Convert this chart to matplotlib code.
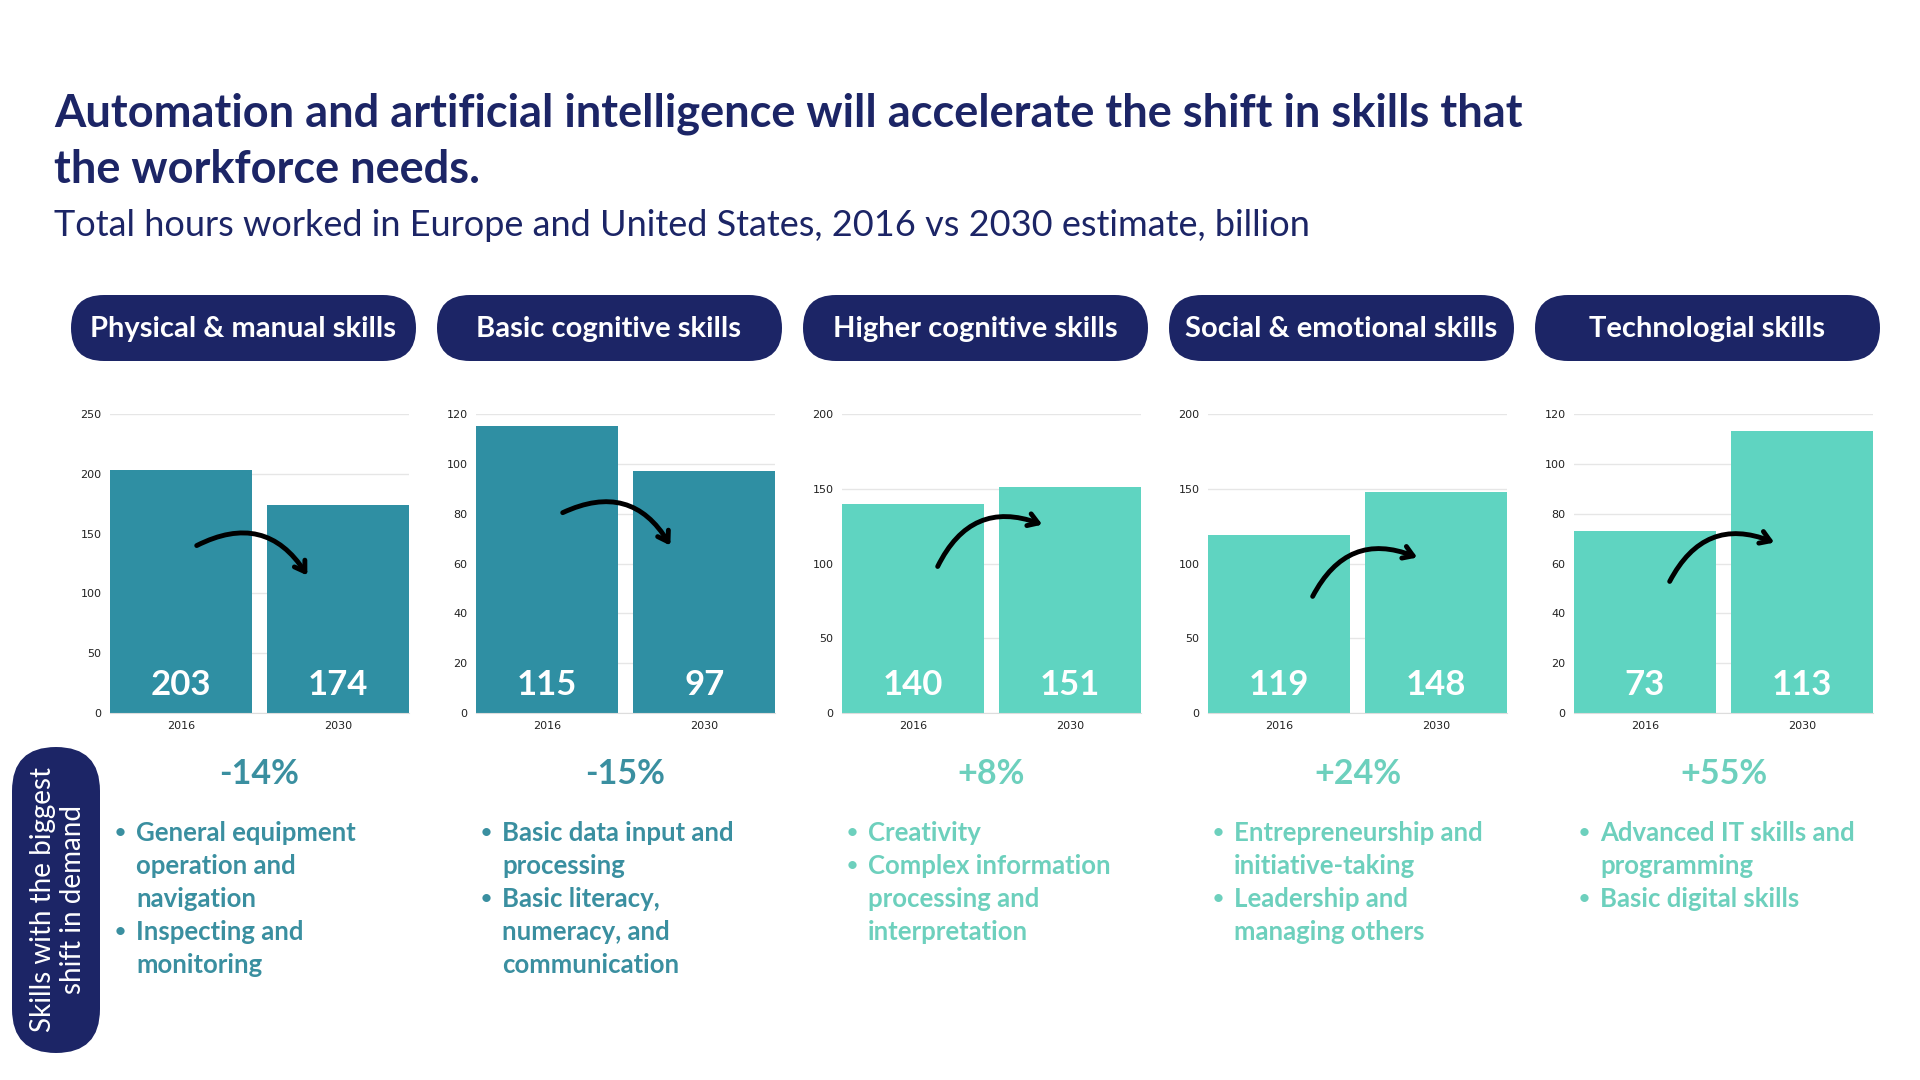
import numpy as np
import matplotlib.pyplot as plt
from matplotlib.patches import FancyBboxPatch

# data
skills = ["Physical & manual skills", "Basic cognitive skills", "Higher cognitive skills",
          "Social & emotional skills", "Technologial skills"]
years = ["2016", "2030"]
hours_2016 = [203, 115, 140, 119, 73]
hours_2030 = [174, 97, 151, 148, 113]
changes = ["-14%", "-15%", "+8%", "+24%", "+55%"]
y_max = [250, 120, 200, 200, 120]
y_step = [50, 20, 50, 50, 20]
bullets = [
    [["General equipment", "operation and", "navigation"], ["Inspecting and", "monitoring"]],
    [["Basic data input and", "processing"], ["Basic literacy,", "numeracy, and", "communication"]],
    [["Creativity"], ["Complex information", "processing and", "interpretation"]],
    [["Entrepreneurship and", "initiative-taking"], ["Leadership and", "managing others"]],
    [["Advanced IT skills and", "programming"], ["Basic digital skills"]],
]

NAVY = "#1c2566"
DARK = "#2f8fa3"
LIGHT = "#5fd4c1"
colors = [DARK, DARK, LIGHT, LIGHT, LIGHT]
text_colors = ["#3a8fa0", "#3a8fa0", "#6dd0bd", "#6dd0bd", "#6dd0bd"]

# arrow start / end in axes fraction (layout only)
arrows = [((0.29, 0.56), (0.66, 0.46)), ((0.29, 0.67), (0.65, 0.56)),
          ((0.32, 0.49), (0.67, 0.63)), ((0.35, 0.39), (0.70, 0.52)),
          ((0.32, 0.44), (0.67, 0.57))]

W, H = 1920, 1080
fig = plt.figure(figsize=(19.2, 10.8), dpi=100)
fig.patch.set_facecolor("white")

bg = fig.add_axes([0, 0, 1, 1])
bg.set_xlim(0, W)
bg.set_ylim(H, 0)
bg.axis("off")

FONT = "Lato"
bg.text(54, 114, "Automation and artificial intelligence will accelerate the shift in skills that",
        fontsize=32.5, fontweight="bold", color=NAVY, va="center", family=FONT)
bg.text(54, 170, "the workforce needs.", fontsize=32.5, fontweight="bold", color=NAVY,
        va="center", family=FONT)
bg.text(54, 226, "Total hours worked in Europe and United States, 2016 vs 2030 estimate, billion",
        fontsize=26, color=NAVY, va="center", family=FONT)

# side label
side = FancyBboxPatch((12, 747), 88, 306, boxstyle="round,pad=0,rounding_size=44",
                      fc=NAVY, ec="none")
bg.add_patch(side)
bg.text(58, 900, "Skills with the biggest\nshift in demand", rotation=90, color="white",
        fontsize=20, ha="center", va="center", family=FONT, linespacing=1.2)

panel_dx = 366
ax_left0 = 110
ax_w = 299
ax_top = 414
ax_bot = 713

for i in range(len(skills)):
    left = ax_left0 + i * panel_dx
    cx = left + ax_w / 2

    pill = FancyBboxPatch((left - 39, 295), 345, 66, boxstyle="round,pad=0,rounding_size=33",
                          fc=NAVY, ec="none")
    bg.add_patch(pill)
    bg.text(left - 39 + 172, 329, skills[i], color="white", fontsize=21, fontweight="bold",
            ha="center", va="center", family=FONT)

    ax = fig.add_axes([left / W, 1 - ax_bot / H, ax_w / W, (ax_bot - ax_top) / H])
    vals = [hours_2016[i], hours_2030[i]]
    x = np.arange(2)
    ax.bar(x, vals, width=0.9, color=colors[i], zorder=2)
    ax.set_xlim(-0.45, 1.45)
    ax.set_ylim(0, y_max[i])
    ax.set_yticks(np.arange(0, y_max[i] + 1, y_step[i]))
    ax.set_xticks(x)
    ax.set_xticklabels(years)
    ax.tick_params(length=0, labelsize=8, colors="#222222", pad=6)
    ax.grid(axis="y", color="#e6e6e6", lw=1, zorder=0)
    for s in ["left", "right", "top"]:
        ax.spines[s].set_visible(False)
    ax.spines["bottom"].set_color("#dddddd")
    for xi, v in zip(x, vals):
        ax.text(xi, 0.094, str(v), transform=ax.get_xaxis_transform(), ha="center",
                va="center", color="white", fontsize=25, fontweight="bold", family=FONT, zorder=3)

    (x0, y0), (x1, y1) = arrows[i]
    ax.annotate("", xy=(x1, y1), xytext=(x0, y0), xycoords="axes fraction",
                textcoords="axes fraction", zorder=4,
                arrowprops=dict(arrowstyle="->,head_length=0.7,head_width=0.45", lw=3.5,
                                color="black", connectionstyle="arc3,rad=-0.45",
                                shrinkA=0, shrinkB=0, capstyle="round"))

    bg.text(cx, 774, changes[i], color=text_colors[i], fontsize=24.5, fontweight="bold",
            ha="center", va="center", family=FONT)

    line_y = 833
    for item in bullets[i]:
        bg.text(left + 10, line_y, "\u2022", color=text_colors[i], fontsize=16,
                ha="center", va="center", family=FONT)
        for ln in item:
            bg.text(left + 26, line_y, ln, color=text_colors[i], fontsize=18.5, fontweight="bold",
                    ha="left", va="center", family=FONT)
            line_y += 33

fig.savefig("out.png", dpi=100, facecolor="white")
